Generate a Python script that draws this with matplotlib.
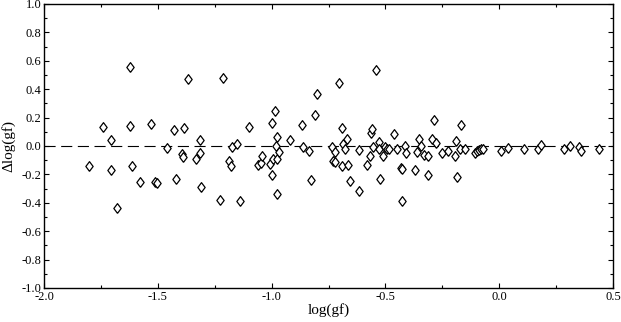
import matplotlib
matplotlib.use("Agg")
import matplotlib.pyplot as plt
from matplotlib.ticker import MultipleLocator, FormatStrFormatter

plt.rcParams['font.family'] = ['Liberation Serif', 'DejaVu Serif']
plt.rcParams['axes.unicode_minus'] = False

# log(gf) values
loggf = [-1.802, -1.741, -1.707, -1.706, -1.681, -1.623, -1.621, -1.612, -1.580, -1.529,
         -1.511, -1.504, -1.461, -1.429, -1.419, -1.395, -1.391, -1.385, -1.367, -1.331,
         -1.316, -1.315, -1.312, -1.227, -1.212, -1.186, -1.177, -1.173, -1.151, -1.139,
         -1.098, -1.061, -1.047, -1.041, -1.007, -1.000, -0.997, -0.993, -0.985, -0.978,
         -0.981, -0.978, -0.975, -0.969, -0.919, -0.866, -0.861, -0.836, -0.827, -0.811,
         -0.799, -0.736, -0.729, -0.721, -0.720, -0.703, -0.691, -0.691, -0.685, -0.676,
         -0.669, -0.664, -0.656, -0.617, -0.616, -0.579, -0.568, -0.565, -0.557, -0.554,
         -0.543, -0.528, -0.527, -0.522, -0.510, -0.500, -0.492, -0.486, -0.461, -0.449,
         -0.431, -0.425, -0.425, -0.414, -0.410, -0.371, -0.360, -0.352, -0.344, -0.330,
         -0.313, -0.313, -0.297, -0.286, -0.279, -0.251, -0.224, -0.194, -0.188, -0.185,
         -0.173, -0.166, -0.149, -0.107, -0.099, -0.090, -0.080, -0.071, 0.010, 0.037,
         0.108, 0.171, 0.183, 0.286, 0.312, 0.349, 0.361, 0.437]

# delta log(gf)
dloggf = [-0.139, 0.134, 0.042, -0.171, -0.435, 0.556, 0.141, -0.139, -0.256, 0.157,
          -0.251, -0.261, -0.012, 0.111, -0.235, -0.056, -0.075, 0.129, 0.472, -0.092,
          -0.049, 0.042, -0.287, -0.382, 0.479, -0.104, -0.139, -0.005, 0.014, -0.385,
          0.134, -0.132, -0.118, -0.068, -0.129, 0.160, -0.206, -0.089, 0.246, 0.065,
          0.000, -0.340, -0.094, -0.042, 0.040, 0.146, -0.009, -0.035, -0.237, 0.216,
          0.366, -0.009, -0.108, -0.113, -0.040, 0.442, 0.127, -0.141, 0.014, -0.019,
          0.051, -0.132, -0.246, -0.026, -0.315, -0.134, -0.070, 0.092, 0.118, -0.004,
          0.533, 0.026, -0.023, -0.229, -0.068, -0.009, -0.018, -0.021, 0.081, -0.023,
          -0.153, -0.161, -0.385, -0.001, -0.046, -0.168, -0.039, 0.051, -0.001, -0.065,
          -0.072, -0.202, 0.051, 0.185, 0.023, -0.049, -0.034, -0.069, 0.037, -0.215,
          -0.023, 0.150, -0.019, -0.047, -0.035, -0.030, -0.023, -0.018, -0.033, -0.012,
          -0.020, -0.020, 0.009, -0.023, -0.002, -0.007, -0.035, -0.020]

fig = plt.figure(figsize=(6.21, 3.22), dpi=100)
ax = fig.add_axes([44/621, 34/322, 569/621, 284/322])

# slightly narrow open diamond
diamond = [(0, -1), (0.75, 0), (0, 1), (-0.75, 0), (0, -1)]
ax.plot(loggf, dloggf, linestyle='none', marker=diamond, markersize=7,
        markerfacecolor='white', markeredgecolor='black', markeredgewidth=0.9, zorder=3)

ax.axhline(0, color='black', lw=0.8, linestyle=(0, (10, 5)), zorder=2)

ax.set_xlim(-2.0, 0.5)
ax.set_ylim(-1.0, 1.0)
ax.xaxis.set_major_locator(MultipleLocator(0.5))
ax.xaxis.set_minor_locator(MultipleLocator(0.25))
ax.yaxis.set_major_locator(MultipleLocator(0.2))
ax.yaxis.set_minor_locator(MultipleLocator(0.1))
ax.xaxis.set_major_formatter(FormatStrFormatter('%.1f'))
ax.yaxis.set_major_formatter(FormatStrFormatter('%.1f'))
ax.tick_params(which='both', direction='in', top=True, right=True, labelsize=9, pad=2)
ax.tick_params(which='major', length=3.5, width=0.8)
ax.tick_params(which='minor', length=2, width=0.8)
for s in ax.spines.values():
    s.set_linewidth(1.0)

ax.set_xlabel('log(gf)', fontsize=11, labelpad=0)
ax.set_ylabel('\u0394log(gf)', fontsize=11, labelpad=4)

fig.savefig('out.png', dpi=100)
